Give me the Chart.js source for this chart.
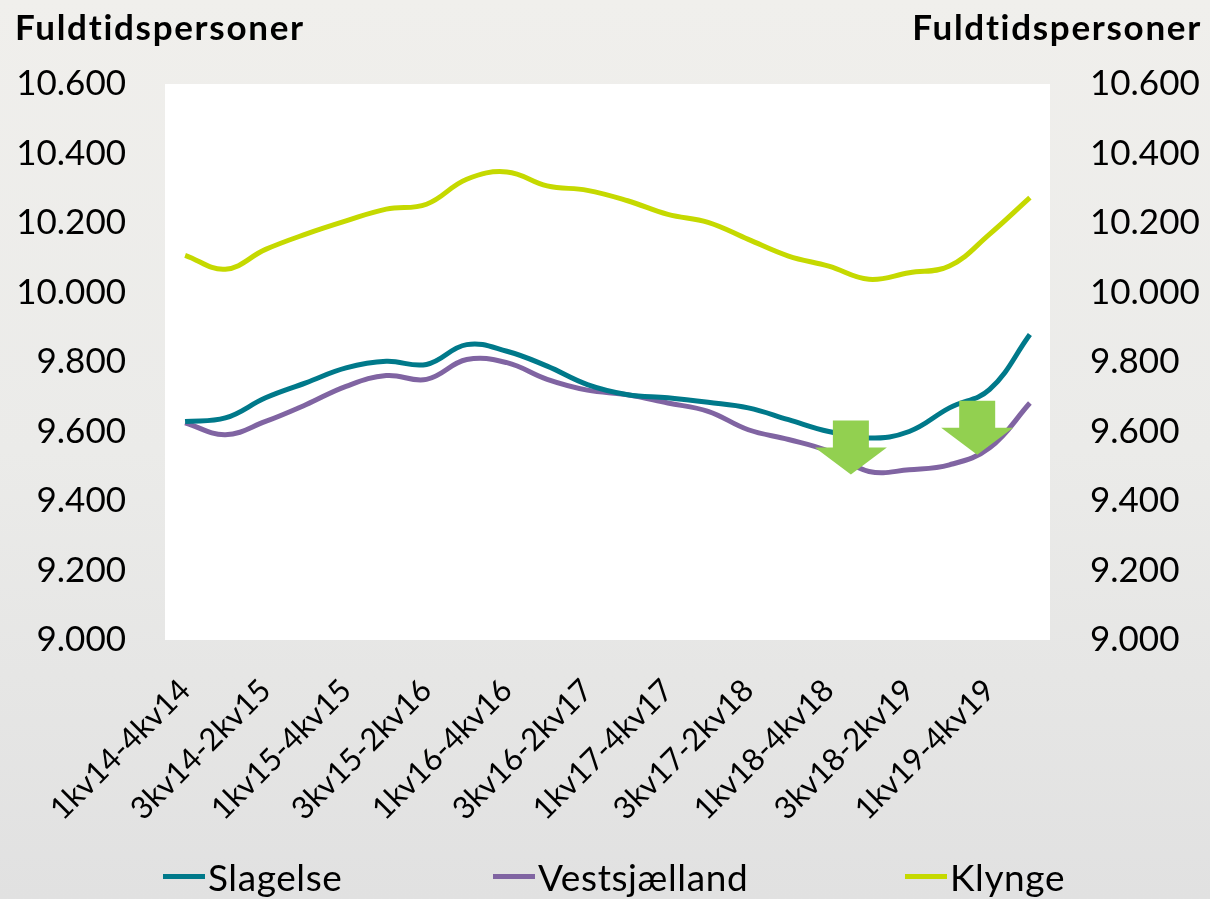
<!DOCTYPE html>
<html>
<head>
<meta charset="utf-8">
<script src="https://cdn.jsdelivr.net/npm/chart.js@4.4.1/dist/chart.umd.min.js"></script>
<style>
    html, body { margin: 0; padding: 0; }
    body {
        width: 1210px; height: 899px; overflow: hidden; position: relative;
        background: linear-gradient(to bottom, #f0efec 0%, #ebebe9 50%, #e1e1e1 100%);
        font-family: Lato, sans-serif;
    }
    #chart { position: absolute; left: 0; top: 0; }
    #legend { position: absolute; left: 0; top: 852px; width: 1210px; height: 48px; }
    .item { position: absolute; top: 0; height: 48px; display: flex; align-items: center; font-size: 37px; letter-spacing: 0.6px; color: #000; }
    .swatch { width: 42px; height: 5px; margin-right: 3px; }
</style>
</head>
<body>
<canvas id="chart" width="1210" height="899"></canvas>
<div id="legend"></div>
<script>
const labels = ['1kv14-4kv14', '2kv14-1kv15', '3kv14-2kv15', '4kv14-3kv15', '1kv15-4kv15', '2kv15-1kv16',
    '3kv15-2kv16', '4kv15-3kv16', '1kv16-4kv16', '2kv16-1kv17', '3kv16-2kv17', '4kv16-3kv17',
    '1kv17-4kv17', '2kv17-1kv18', '3kv17-2kv18', '4kv17-3kv18', '1kv18-4kv18', '2kv18-1kv19',
    '3kv18-2kv19', '4kv18-3kv19', '1kv19-4kv19', '2kv19-1kv20'];
const slagelse = [9629, 9639, 9697, 9740, 9783, 9802, 9793, 9850, 9831, 9788, 9735, 9706,
    9697, 9684, 9668, 9634, 9600, 9581, 9600, 9668, 9721, 9879];
const vestsjaelland = [9625, 9591, 9629, 9677, 9730, 9761, 9750, 9807, 9798, 9750, 9719, 9706,
    9682, 9658, 9605, 9577, 9543, 9485, 9490, 9504, 9553, 9682];
const klynge = [10107, 10067, 10124, 10168, 10206, 10240, 10254, 10326, 10347, 10307, 10294, 10264,
    10225, 10202, 10153, 10105, 10076, 10038, 10057, 10076, 10168, 10273];
const seriesNames = ['Slagelse', 'Vestsjælland', 'Klynge'];
const axisTitle = 'Fuldtidspersoner';
const yMin = 9000, yMax = 10600, yStep = 200;

// green arrows: position on the category axis and value of the tip
const arrowAt = [16.55, 19.69];
const arrowTip = [9476, 9533];

const colors = ['#00798a', '#8064a2', '#c5d900'];
const legendLeft = [163, 493, 905];
const font = 'Lato';

function fmt(v) {
    return String(v).replace(/\B(?=(\d{3})+(?!\d))/g, '.');
}

const bgPlugin = {
    id: 'plotBg',
    beforeDraw(chart) {
        const { ctx, chartArea: a } = chart;
        ctx.save();
        ctx.fillStyle = '#ffffff';
        ctx.fillRect(a.left, a.top, a.right - a.left, a.bottom - a.top);
        ctx.restore();
    }
};

const titlePlugin = {
    id: 'axisTitles',
    afterDraw(chart) {
        const ctx = chart.ctx;
        ctx.save();
        ctx.fillStyle = '#000';
        ctx.font = 'bold 35px ' + font;
        ctx.letterSpacing = '1.7px';
        ctx.textBaseline = 'alphabetic';
        ctx.textAlign = 'left';
        ctx.fillText(axisTitle, 15, 40);
        ctx.textAlign = 'right';
        ctx.fillText(axisTitle, 1202, 40);
        ctx.restore();
    }
};

const arrowPlugin = {
    id: 'arrows',
    afterDatasetsDraw(chart) {
        const { ctx, scales: { x, y } } = chart;
        ctx.save();
        ctx.fillStyle = '#92d050';
        arrowAt.forEach((pos, i) => {
            const cx = x.getPixelForValue(pos);
            const tip = y.getPixelForValue(arrowTip[i]);
            ctx.beginPath();
            ctx.moveTo(cx - 18, tip - 54);
            ctx.lineTo(cx + 18, tip - 54);
            ctx.lineTo(cx + 18, tip - 27);
            ctx.lineTo(cx + 36, tip - 27);
            ctx.lineTo(cx, tip);
            ctx.lineTo(cx - 36, tip - 27);
            ctx.lineTo(cx - 18, tip - 27);
            ctx.closePath();
            ctx.fill();
        });
        ctx.restore();
    }
};

const series = [slagelse, vestsjaelland, klynge];

const yAxis = (pos, width, pad) => ({
    position: pos,
    min: yMin,
    max: yMax,
    afterFit(s) { s.width = width; },
    grid: { display: false, drawTicks: false },
    border: { display: false },
    ticks: {
        stepSize: yStep,
        padding: pad,
        color: '#000',
        font: { family: font, size: 35 },
        callback: fmt
    }
});

new Chart(document.getElementById('chart').getContext('2d'), {
    type: 'line',
    data: {
        labels,
        datasets: series.map((d, i) => ({
            label: seriesNames[i],
            data: d,
            borderColor: colors[i],
            backgroundColor: colors[i],
            borderWidth: 5,
            pointRadius: 0,
            tension: 0.4,
            fill: false,
            yAxisID: 'y'
        }))
    },
    options: {
        responsive: false,
        animation: false,
        layout: { padding: { top: 84, bottom: 60, left: 0, right: 0 } },
        plugins: {
            legend: { display: false },
            tooltip: { enabled: false }
        },
        scales: {
            x: {
                offset: true,
                afterFit(s) { s.height = 199; },
                grid: { display: false, drawTicks: false },
                border: { display: false },
                ticks: {
                    autoSkip: false,
                    minRotation: 45,
                    maxRotation: 45,
                    padding: 32,
                    color: '#000',
                    font: { family: font, size: 31 },
                    callback: (v, i) => (i % 2 === 0 ? labels[i] : '')
                }
            },
            y: yAxis('left', 165, 39),
            y2: yAxis('right', 160, 40)
        }
    },
    plugins: [bgPlugin, arrowPlugin, titlePlugin]
});

// legend
const legend = document.getElementById('legend');
seriesNames.forEach((name, i) => {
    const item = document.createElement('div');
    item.className = 'item';
    item.style.left = legendLeft[i] + 'px';
    const sw = document.createElement('span');
    sw.className = 'swatch';
    sw.style.background = colors[i];
    const txt = document.createElement('span');
    txt.textContent = name;
    item.appendChild(sw);
    item.appendChild(txt);
    legend.appendChild(item);
});
</script>
</body>
</html>
